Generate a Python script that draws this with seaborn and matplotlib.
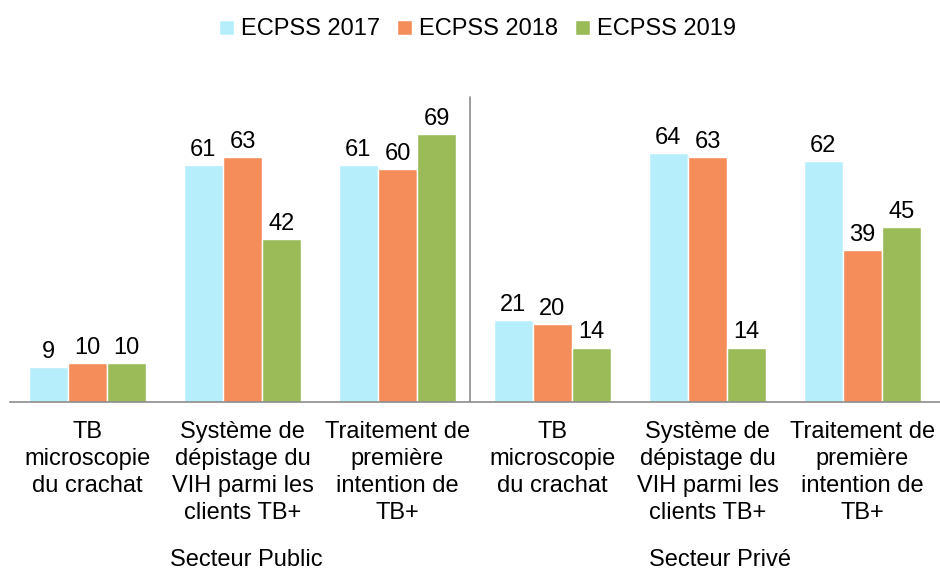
import matplotlib
matplotlib.use("Agg")
import matplotlib.pyplot as plt
import seaborn as sns
import pandas as pd

indicators = ["TB\nmicroscopie\ndu crachat",
              "Système de\ndépistage du\nVIH parmi les\nclients TB+",
              "Traitement de\npremière\nintention de\nTB+"]
sectors = ["Secteur Public", "Secteur Privé"]
series = ["ECPSS 2017", "ECPSS 2018", "ECPSS 2019"]
v2017 = [9, 61, 61, 21, 64, 62]
v2018 = [10, 63, 60, 20, 63, 39]
v2019 = [10, 42, 69, 14, 14, 45]
colors = ["#B6EFFB", "#F58D5A", "#9BBB59"]

keys = [f"{s}|{i}" for s in sectors for i in indicators]
rows = []
for name, vals in zip(series, [v2017, v2018, v2019]):
    for k, v in zip(keys, vals):
        rows.append({"cat": k, "series": name, "value": v})
df = pd.DataFrame(rows)

sns.set_style("white")
plt.rcParams["font.family"] = ["Liberation Sans", "DejaVu Sans"]
plt.rcParams["text.color"] = "black"
plt.rcParams["xtick.color"] = "black"

FS = 17
fig = plt.figure(figsize=(9.4, 5.72), dpi=100)
ax = fig.add_axes([10/940, (572-402)/572, 930/940, 311/572])
sns.barplot(data=df, x="cat", y="value", hue="series", order=keys,
            hue_order=series, palette=colors, width=0.76,
            edgecolor="white", linewidth=1, ax=ax, legend=True, saturation=1)
for c in ax.containers:
    ax.bar_label(c, fontsize=FS, padding=3, color="black")
ax.set_ylim(0, 80)
ax.set_xlim(-0.5, 5.5)
ax.set_xlabel("")
ax.set_ylabel("")
ax.set_yticks([])
for s in ["top", "right", "left"]:
    ax.spines[s].set_visible(False)
ax.spines["bottom"].set_color("#8c8c8c")
ax.spines["bottom"].set_linewidth(1.2)
ax.set_xticks(range(len(keys)))
ax.set_xticklabels([k.split("|")[1] for k in keys], fontsize=FS, linespacing=1.28)
ax.tick_params(axis="x", length=0, pad=14, colors="black")
ax.axvline(2.47, ymin=0, ymax=0.98, color="#8c8c8c", linewidth=1.2)

handles, labels = ax.get_legend_handles_labels()
ax.legend_.remove()
fig.legend(handles, labels, loc="upper center", bbox_to_anchor=(0.508, 1.005),
           ncol=3, frameon=False, fontsize=FS, handlelength=0.6,
           handleheight=0.6, handletextpad=0.3, columnspacing=0.75)

fig.text(246/940, 1-560/572, "Secteur Public", ha="center", va="center", fontsize=FS)
fig.text(720/940, 1-560/572, "Secteur Privé", ha="center", va="center", fontsize=FS)

fig.savefig("out.png", dpi=100)
